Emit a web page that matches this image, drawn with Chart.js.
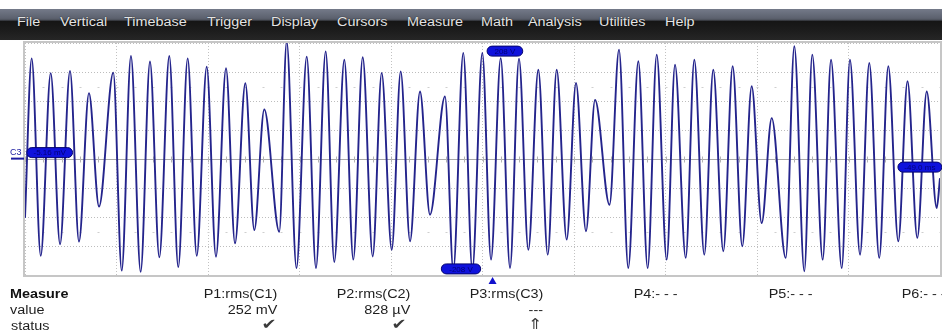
<!DOCTYPE html>
<html>
<head>
<meta charset="utf-8">
<script src="https://cdn.jsdelivr.net/npm/chart.js@4.4.0/dist/chart.umd.min.js"></script>
<style>
  html, body { margin: 0; padding: 0; background: #fff; }
  body { width: 942px; height: 333px; overflow: hidden; position: relative; font-family: "Liberation Sans", Arial, sans-serif; }
  #menubar {
    position: absolute; left: 0; top: 9px; width: 942px; height: 31px;
    background: linear-gradient(to bottom, #747a89 0%, #5c616e 30%, #4a4e58 36%, #151515 39%, #1b1b1b 65%, #262626 100%);
  }
  .menu { position: absolute; top: 7px; color: #e4e4e4; font-size: 12px; line-height: 12px; white-space: nowrap;
          transform: scaleX(1.2); transform-origin: left; text-shadow: 0 0 1px #000; }
  #wrap { position: absolute; left: 0; top: 0; width: 942px; height: 290px; }
  .cell { position: absolute; font-size: 12px; line-height: 12px; color: #1e1e1e; white-space: nowrap; transform: scaleX(1.2); }
  .l { transform-origin: left; }
  .r { transform-origin: right; }
  .b { font-weight: bold; color: #111; }
  .sym { font-family: "DejaVu Sans", sans-serif; font-size: 15px; line-height: 15px; color: #3a3a3a; }
</style>
</head>
<body>
<div id="menubar">
  <span class="menu" style="left:17px">File</span>
  <span class="menu" style="left:60px">Vertical</span>
  <span class="menu" style="left:124px">Timebase</span>
  <span class="menu" style="left:207px">Trigger</span>
  <span class="menu" style="left:271px">Display</span>
  <span class="menu" style="left:337px">Cursors</span>
  <span class="menu" style="left:407px">Measure</span>
  <span class="menu" style="left:481px">Math</span>
  <span class="menu" style="left:528px">Analysis</span>
  <span class="menu" style="left:599px">Utilities</span>
  <span class="menu" style="left:665px">Help</span>
</div>
<div id="wrap"><canvas id="scope" width="942" height="290"></canvas></div>
<div id="table"></div>
<script>
// waveform extremes (time in divisions, level in divisions)
const startPoint = { x: 0, y: -2.03 };
const endPoint = { x: 10, y: -0.66 };

const peakTimes = [0.073, 0.281, 0.492, 0.699, 0.965, 1.158, 1.366, 1.577, 1.778, 1.986,
  2.197, 2.408, 2.615, 2.860, 3.079, 3.286, 3.490, 3.691, 3.898, 4.106,
  4.317, 4.590, 4.790, 4.998, 5.199, 5.399, 5.610, 5.811, 6.022, 6.230,
  6.492, 6.703, 6.904, 7.104, 7.315, 7.522, 7.734, 7.942, 8.161, 8.408,
  8.604, 8.809, 9.016, 9.227, 9.435, 9.645, 9.855];
const peakLevels = [3.47, 2.96, 3.04, 2.27, 2.98, 3.55, 3.36, 3.55, 3.47, 3.18,
  3.13, 2.61, 1.71, 4.05, 3.53, 3.71, 3.42, 3.51, 2.97, 3.02,
  2.33, 2.16, 3.66, 3.66, 3.48, 3.46, 3.08, 3.08, 2.62, 2.04,
  3.77, 3.37, 3.60, 3.25, 3.42, 3.08, 3.20, 2.51, 1.41, 3.89,
  3.60, 3.42, 3.42, 3.31, 3.20, 2.68, 2.33];
const troughTimes = [0.172, 0.383, 0.590, 0.809, 1.057, 1.264, 1.468, 1.675, 1.877, 2.087,
  2.295, 2.506, 2.779, 2.967, 3.180, 3.380, 3.588, 3.800, 4.008, 4.208,
  4.426, 4.681, 4.889, 5.093, 5.301, 5.501, 5.713, 5.920, 6.131, 6.388,
  6.593, 6.805, 7.013, 7.221, 7.424, 7.632, 7.839, 8.051, 8.314, 8.517,
  8.718, 8.926, 9.126, 9.336, 9.544, 9.752, 9.964];
const troughLevels = [-3.34, -2.94, -2.85, -1.64, -3.85, -3.89, -3.39, -3.73, -3.34, -3.37,
  -2.91, -2.45, -2.51, -3.76, -3.76, -3.55, -3.47, -3.36, -3.13, -2.84,
  -1.92, -3.83, -3.83, -3.47, -3.76, -3.13, -3.30, -2.78, -2.49, -1.58,
  -3.76, -3.76, -3.47, -3.41, -3.30, -3.18, -3.01, -2.21, -3.41, -3.87,
  -3.47, -3.76, -3.30, -3.41, -2.84, -2.72, -1.69];

// measurement table
const measureColumns = ['P1:rms(C1)', 'P2:rms(C2)', 'P3:rms(C3)', 'P4:- - -', 'P5:- - -', 'P6:- - -'];
const measureValues = ['252 mV', '828 µV', '---', '', '', ''];
const measureStatus = ['✔', '✔', '⇑', '', '', ''];

// readout labels on the grid
const markerLabels = ['-5.16 mV', '208 V', '-208 V', '-49.0 ms'];

let trace = [startPoint];
for (let i = 0; i < peakTimes.length; i++) {
  trace.push({ x: peakTimes[i], y: peakLevels[i] });
  trace.push({ x: troughTimes[i], y: troughLevels[i] });
}
trace.push(endPoint);

// table
let table = document.getElementById('table');
let html = '';
html += '<span class="cell l b" style="left:10px;top:288px">Measure</span>';
html += '<span class="cell l" style="left:10px;top:304px">value</span>';
html += '<span class="cell l" style="left:11px;top:320px">status</span>';
let rightEdges = [277, 410, 543, 678, 813, 946];
for (let i = 0; i < measureColumns.length; i++) {
  let r = 942 - rightEdges[i];
  html += `<span class="cell r" style="right:${r}px;top:288px">${measureColumns[i]}</span>`;
  if (measureValues[i]) html += `<span class="cell r" style="right:${r}px;top:304px">${measureValues[i]}</span>`;
  if (measureStatus[i]) html += `<span class="cell r sym" style="right:${r + (i == 1 ? 3 : 0)}px;top:317px">${measureStatus[i]}</span>`;
}
table.innerHTML = html;

const scopeDecor = {
  id: 'scopeDecor',
  beforeDatasetsDraw(chart) {
    let ctx = chart.ctx, xs = chart.scales.x, ys = chart.scales.y, a = chart.chartArea;
    ctx.save();
    // solid centre line
    ctx.strokeStyle = '#a9a9a9';
    ctx.lineWidth = 1;
    let cy = Math.round(ys.getPixelForValue(0)) + 0.5;
    ctx.beginPath(); ctx.moveTo(a.left, cy); ctx.lineTo(a.right, cy); ctx.stroke();
    // minor ticks
    for (let t = 0; t <= 10; t += 0.2) {
      let px = Math.round(xs.getPixelForValue(t)) + 0.5;
      ctx.strokeStyle = '#b4b4b4';
      ctx.beginPath(); ctx.moveTo(px, cy - 3); ctx.lineTo(px, cy + 3); ctx.stroke();
      ctx.strokeStyle = '#cfcfcf';
      for (let lv of [2.5, -2.5]) {
        let py = Math.round(ys.getPixelForValue(lv)) + 0.5;
        ctx.beginPath(); ctx.moveTo(px - 1, py); ctx.lineTo(px + 1, py); ctx.stroke();
      }
    }
    // frame
    ctx.strokeStyle = '#c6c6c6';
    ctx.lineWidth = 2;
    ctx.strokeRect(a.left - 1, a.top - 1, a.right - a.left + 2, a.bottom - a.top + 2);
    ctx.restore();
  },
  afterDatasetsDraw(chart) {
    let ctx = chart.ctx, xs = chart.scales.x, ys = chart.scales.y;
    let boxes = [
      { x0: 0.02, x1: 0.52, y: 0.22 },
      { x0: 5.05, x1: 5.44, y: 3.72 },
      { x0: 4.55, x1: 4.98, y: -3.79 },
      { x0: 9.54, x1: 10.02, y: -0.28 }
    ];
    ctx.save();
    boxes.forEach((b, i) => {
      let l = xs.getPixelForValue(b.x0), r = xs.getPixelForValue(b.x1);
      let cy = ys.getPixelForValue(b.y);
      ctx.beginPath();
      ctx.roundRect(l, cy - 5, r - l, 10, 5);
      ctx.fillStyle = '#0f12dc';
      ctx.fill();
      ctx.strokeStyle = '#06066e';
      ctx.lineWidth = 1;
      ctx.stroke();
      ctx.fillStyle = '#00007a';
      ctx.font = '8px "Liberation Sans", Arial';
      ctx.textAlign = 'center';
      ctx.textBaseline = 'middle';
      ctx.fillText(markerLabels[i], (l + r) / 2, cy + 0.5);
    });
    // channel label
    let ly = ys.getPixelForValue(0.22);
    ctx.fillStyle = '#1a1aa0';
    ctx.font = '9px "Liberation Sans", Arial';
    ctx.textAlign = 'left';
    ctx.textBaseline = 'alphabetic';
    ctx.fillText('C3', 10, ly + 2);
    ctx.fillRect(11, ly + 5, 13, 2);
    // trigger arrow
    let tx = xs.getPixelForValue(5.11), by = chart.chartArea.bottom;
    ctx.beginPath();
    ctx.moveTo(tx, by + 2); ctx.lineTo(tx - 4, by + 9); ctx.lineTo(tx + 4, by + 9); ctx.closePath();
    ctx.fillStyle = '#1111cc';
    ctx.fill();
    ctx.restore();
  }
};

new Chart(document.getElementById('scope'), {
  type: 'line',
  data: {
    datasets: [{
      data: trace,
      borderColor: '#24248c',
      borderWidth: 1.9,
      pointRadius: 0,
      cubicInterpolationMode: 'monotone'
    }]
  },
  options: {
    responsive: false,
    animation: false,
    layout: { padding: { left: 25, top: 43, right: 2, bottom: 15 } },
    plugins: { legend: { display: false }, tooltip: { enabled: false } },
    scales: {
      x: {
        type: 'linear', min: 0, max: 10,
        ticks: { display: false, stepSize: 1 },
        grid: { color: '#c2c2c2', drawTicks: false },
        border: { display: false, dash: [1, 2] }
      },
      y: {
        min: -4, max: 4,
        ticks: { display: false, stepSize: 1 },
        grid: { color: '#bdbdbd', drawTicks: false },
        border: { display: false, dash: [1, 2] }
      }
    }
  },
  plugins: [scopeDecor]
});
</script>
</body>
</html>
